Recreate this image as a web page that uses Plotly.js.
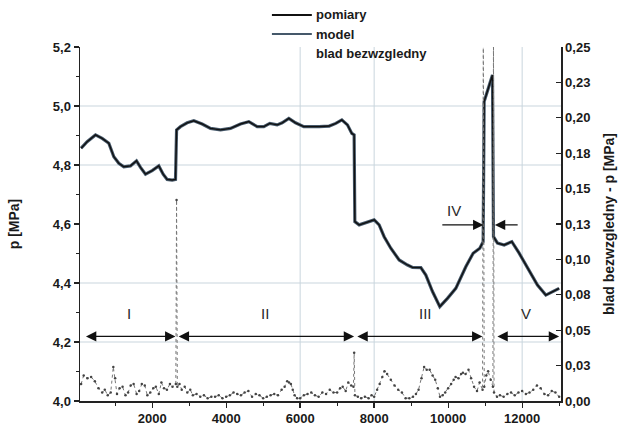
<!DOCTYPE html>
<html>
<head>
<meta charset="utf-8">
<script src="https://cdn.plot.ly/plotly-3.0.1.min.js"></script>
<style>html,body{margin:0;padding:0;background:#fff;}#chart{width:621px;height:432px;}</style>
</head>
<body>
<div id="chart"></div>
<script>
// ---- data ----
const timeP = [80,243,468,649,829,964,1099,1234,1414,1577,1685,1820,2000,2180,2297,2405,2541,2631,2660,2766,2946,3126,3351,3577,3847,4117,4387,4613,4838,5018,5180,5378,5514,5694,5874,6099,6514,6784,6964,7127,7279,7396,7459,7478,7595,7775,8000,8135,8270,8450,8676,8901,9036,9262,9397,9577,9775,9982,10207,10477,10676,10856,10946,10973,11063,11198,11225,11333,11514,11721,11919,12189,12414,12640,12820,13000];
const pressure = [4.857,4.879,4.902,4.890,4.874,4.828,4.806,4.794,4.797,4.814,4.792,4.769,4.781,4.797,4.769,4.751,4.749,4.751,4.919,4.930,4.943,4.950,4.939,4.924,4.919,4.924,4.939,4.947,4.930,4.930,4.941,4.936,4.943,4.958,4.943,4.930,4.930,4.932,4.941,4.953,4.936,4.907,4.902,4.608,4.597,4.605,4.614,4.597,4.557,4.518,4.478,4.461,4.453,4.452,4.427,4.371,4.320,4.348,4.382,4.455,4.501,4.518,4.540,5.015,5.054,5.105,4.557,4.535,4.529,4.540,4.501,4.444,4.393,4.359,4.371,4.382];

const timeE = [80,150,250,350,450,550,650,720,800,880,950,1000,1050,1120,1200,1280,1350,1420,1500,1580,1650,1720,1800,1870,1950,2030,2100,2180,2250,2320,2400,2480,2550,2640,2660,2680,2740,2800,2880,2950,3030,3100,3200,3300,3400,3500,3600,3700,3800,3900,4000,4100,4200,4300,4400,4500,4600,4700,4800,4900,5000,5100,5200,5300,5400,5500,5580,5650,5700,5750,5800,5850,5920,6000,6100,6200,6300,6400,6500,6600,6700,6800,6900,7000,7080,7150,7230,7300,7380,7440,7460,7480,7560,7650,7750,7850,7930,8000,8080,8150,8220,8280,8350,8450,8550,8650,8750,8850,8950,9050,9130,9200,9280,9350,9420,9500,9580,9650,9720,9780,9850,9920,10000,10080,10150,10200,10280,10350,10400,10470,10550,10620,10700,10780,10850,10930,10950,10975,11030,11080,11150,11210,11225,11240,11320,11400,11500,11600,11700,11800,11900,12000,12100,12200,12300,12400,12500,12600,12700,12800,12900,13000];
const absError = [0.012,0.018,0.016,0.017,0.014,0.009,0.006,0.008,0.004,0.006,0.024,0.016,0.005,0.009,0.010,0.004,0.006,0.011,0.012,0.005,0.007,0.012,0.011,0.004,0.006,0.009,0.010,0.005,0.013,0.009,0.008,0.012,0.010,0.012,0.142,0.010,0.012,0.008,0.010,0.006,0.008,0.004,0.005,0.003,0.004,0.002,0.003,0.003,0.004,0.002,0.003,0.004,0.006,0.005,0.004,0.006,0.007,0.003,0.005,0.004,0.002,0.003,0.004,0.005,0.004,0.008,0.010,0.014,0.013,0.012,0.008,0.004,0.002,0.002,0.004,0.005,0.006,0.004,0.003,0.006,0.005,0.008,0.006,0.006,0.009,0.010,0.007,0.013,0.011,0.010,0.034,0.004,0.003,0.002,0.003,0.002,0.004,0.003,0.008,0.012,0.017,0.021,0.019,0.015,0.011,0.008,0.006,0.002,0.002,0.003,0.005,0.008,0.016,0.024,0.022,0.022,0.018,0.015,0.009,0.003,0.004,0.006,0.009,0.012,0.015,0.017,0.016,0.019,0.020,0.019,0.022,0.016,0.010,0.007,0.013,0.008,0.26,0.010,0.018,0.021,0.015,0.010,0.26,0.006,0.003,0.004,0.003,0.005,0.006,0.004,0.006,0.007,0.005,0.006,0.008,0.011,0.009,0.005,0.004,0.007,0.006,0.003];

const seriesNames = ['pomiary','model','blad bezwzgledny'];
const errTickVals = [0,0.025,0.05,0.075,0.1,0.125,0.15,0.175,0.2,0.225,0.25];
const errTickText = ['0,00','0,03','0,05','0,08','0,10','0,13','0,15','0,18','0,20','0,23','0,25'];

// region boundaries (time) and labels
const regionLabels = ['I','II','III','IV','V'];
const regionStart = [170,2676,7505,9802,11290];
const regionEnd   = [2630,7459,10927,10954,13000];
const ivRightFrom = 11919, ivRightTo = 11262;
const labelTime = [1370,5045,9397,10162,12100];
const labelP    = [4.297,4.297,4.297,4.647,4.297];
const arrowP = 4.219, ivArrowP = 4.597;

const gridP = [5.0,4.8,4.4,4.2];
const gridT = [6000,8000,12000];

const FONT = 'Liberation Sans, Arial, sans-serif';
const INK = '#1a1a1a';
const MODEL_COLOR = '#45586a';

const traces = [
  {x: timeP, y: pressure, type:'scatter', mode:'lines', name: seriesNames[1],
   line:{color:MODEL_COLOR, width:3.2}, showlegend:false, hoverinfo:'skip'},
  {x: timeP, y: pressure, type:'scatter', mode:'lines', name: seriesNames[0],
   line:{color:'#111111', width:1.4}, showlegend:false, hoverinfo:'skip'},
  {x: timeE, y: absError, type:'scatter', mode:'lines+markers', yaxis:'y2', name: seriesNames[2], showlegend:false,
   line:{color:'#777777', width:1, dash:'dot'}, marker:{size:2.5, color:'#444444'}, hoverinfo:'skip'}
];

const shapes = [];
gridP.forEach(v => shapes.push({type:'line', xref:'paper', x0:0, x1:1, yref:'y', y0:v, y1:v,
  line:{color:'#c9d5dd', width:1}, layer:'below'}));
gridT.forEach(v => shapes.push({type:'line', yref:'paper', y0:0, y1:1, xref:'x', x0:v, x1:v,
  line:{color:'#c9d5dd', width:1}, layer:'below'}));

const annotations = [];

// manual legend (drawn in paper coordinates above the plot)
const legendRowsY = [1.0904, 1.0367, 0.983];
const legendColors = ['#111111', MODEL_COLOR, null];
for (let i = 0; i < seriesNames.length; i++) {
  if (legendColors[i]) {
    shapes.push({type:'line', xref:'paper', yref:'paper', x0:0.399, x1:0.482,
      y0:legendRowsY[i], y1:legendRowsY[i], line:{color:legendColors[i], width:2}});
  }
  annotations.push({xref:'paper', yref:'paper', x:0.486, y:legendRowsY[i], xanchor:'left', yanchor:'middle',
    text:'<b>' + seriesNames[i] + '</b>', showarrow:false, font:{family:FONT, size:13, color:INK}});
}

for (let i = 0; i < regionLabels.length; i++) {
  annotations.push({x: labelTime[i], y: labelP[i], xref:'x', yref:'y', text: regionLabels[i],
    showarrow:false, font:{family:FONT, size:15, color:'#2a2a2a'}});
  if (regionLabels[i] === 'IV') {
    annotations.push({x: regionEnd[i], y: ivArrowP, ax: regionStart[i], ay: ivArrowP,
      xref:'x', yref:'y', axref:'x', ayref:'y', text:'', showarrow:true,
      arrowhead:2, arrowsize:1.6, arrowwidth:1.3, arrowcolor:'#111', standoff:0, startstandoff:0});
    annotations.push({x: ivRightTo, y: ivArrowP, ax: ivRightFrom, ay: ivArrowP,
      xref:'x', yref:'y', axref:'x', ayref:'y', text:'', showarrow:true,
      arrowhead:2, arrowsize:1.6, arrowwidth:1.3, arrowcolor:'#111', standoff:0, startstandoff:0});
  } else {
    annotations.push({x: regionEnd[i], y: arrowP, ax: regionStart[i], ay: arrowP,
      xref:'x', yref:'y', axref:'x', ayref:'y', text:'', showarrow:true, arrowside:'end+start',
      arrowhead:2, startarrowhead:2, arrowsize:1.6, startarrowsize:1.6, arrowwidth:1.3,
      arrowcolor:'#111', standoff:0, startstandoff:0});
  }
}

const tickFont = {family:FONT, size:13, color:INK, weight:'bold'};
const titleFont = {family:FONT, size:14, color:INK, weight:'bold'};

const layout = {
  width:621, height:432,
  margin:{l:80, r:60, t:47, b:31, pad:0},
  paper_bgcolor:'#ffffff', plot_bgcolor:'#ffffff',
  separators:',.',
  font:{family:FONT, size:13, color:INK},
  showlegend:false,
  xaxis:{range:[50,13050], showline:true, linecolor:'#222', linewidth:1.5, mirror:false,
    ticks:'outside', ticklen:5, tickwidth:1.3, tickcolor:'#222', tick0:0, dtick:2000, tickformat:'d',
    minor:{dtick:1000, ticks:'outside', ticklen:3, tickwidth:1, tickcolor:'#222', showgrid:false},
    showgrid:false, zeroline:false, tickfont:tickFont},
  yaxis:{range:[4.0,5.2], showline:true, linecolor:'#222', linewidth:1.5,
    ticks:'outside', ticklen:5, tickwidth:1.3, tickcolor:'#222', tick0:4.0, dtick:0.2, tickformat:'.1f',
    minor:{dtick:0.1, ticks:'outside', ticklen:3, tickwidth:1, tickcolor:'#222', showgrid:false},
    showgrid:false, zeroline:false, tickfont:tickFont,
    title:{text:'p [MPa]', font:titleFont, standoff:30}},
  yaxis2:{overlaying:'y', side:'right', range:[0,0.25], showline:true, linecolor:'#222', linewidth:1.5,
    ticks:'inside', ticklen:5, tickwidth:1.3, tickcolor:'#222', tickvals:errTickVals, ticktext:errTickText,
    showgrid:false, zeroline:false, tickfont:tickFont,
    title:{text:'blad bezwzgledny - p [MPa]', font:titleFont, standoff:15}},
  shapes: shapes,
  annotations: annotations
};

Plotly.newPlot('chart', traces, layout, {staticPlot:true, displayModeBar:false});
</script>
</body>
</html>
